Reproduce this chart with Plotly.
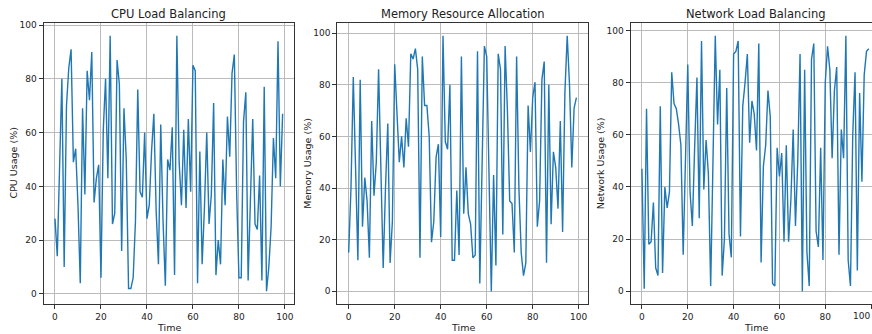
import plotly.graph_objects as go

time = list(range(100))

cpu_usage = [28, 14, 47, 80, 10, 70, 84, 91, 49, 54,
             33, 4, 69, 37, 83, 72, 90, 34, 43, 48,
             6, 61, 80, 43, 96, 26, 30, 87, 78, 16,
             69, 50, 2, 2, 6, 27, 76, 38, 36, 60,
             28, 33, 53, 67, 31, 11, 63, 27, 3, 50,
             46, 62, 7, 96, 49, 33, 61, 32, 65, 38,
             85, 83, 4, 53, 11, 32, 60, 26, 37, 71,
             7, 20, 11, 50, 33, 66, 51, 82, 89, 38,
             6, 6, 64, 75, 5, 40, 65, 26, 24, 44,
             5, 77, 1, 10, 25, 58, 43, 94, 40, 67]

memory_usage = [15, 40, 83, 50, 12, 82, 25, 44, 35, 13,
                66, 37, 50, 86, 40, 9, 40, 65, 11, 27,
                88, 70, 50, 60, 48, 67, 56, 92, 90, 94,
                86, 13, 91, 72, 72, 60, 19, 27, 52, 57,
                21, 99, 58, 55, 80, 12, 12, 39, 14, 91,
                30, 48, 30, 26, 13, 14, 93, 3, 50, 95,
                91, 40, 0, 45, 10, 92, 86, 22, 95, 70,
                35, 34, 15, 91, 40, 15, 6, 11, 72, 54,
                75, 81, 25, 35, 82, 89, 11, 80, 26, 54,
                48, 32, 66, 23, 77, 99, 80, 48, 71, 75]

network_usage = [47, 1, 70, 18, 19, 34, 9, 6, 71, 7,
                 40, 32, 38, 84, 72, 70, 64, 56, 14, 50,
                 87, 38, 25, 55, 82, 28, 96, 39, 58, 45,
                 2, 50, 98, 64, 85, 6, 20, 78, 22, 13,
                 91, 92, 96, 21, 71, 80, 91, 57, 73, 68,
                 54, 95, 11, 48, 56, 77, 67, 3, 2, 55,
                 44, 53, 19, 56, 19, 35, 62, 25, 50, 91,
                 0, 85, 15, 2, 89, 95, 23, 17, 55, 12,
                 80, 94, 85, 51, 77, 86, 14, 62, 51, 98,
                 12, 2, 60, 84, 8, 76, 42, 83, 92, 93]

titles = ["CPU Load Balancing", "Memory Resource Allocation", "Network Load Balancing"]
ylabels = ["CPU Usage (%)", "Memory Usage (%)", "Network Usage (%)"]
series = [cpu_usage, memory_usage, network_usage]

W, H = 872, 334
MT, MB = 23, 30
plot_h = H - MT - MB

def px_x(p):
    return p / W

def px_y(p):
    return (H - MB - p) / plot_h

domains = [[px_x(43.6), px_x(294.0)], [px_x(337.3), px_x(587.8)], [px_x(630.6), 1.0]]
xranges = [[-4.95, 103.95], [-4.95, 103.95], [-4.95, 100.4]]
ylabel_x = [13, 307.3, 600.7]

fig = go.Figure()
font = "DejaVu Sans, Arial, sans-serif"
axis_color = "#333333"
grid_color = "#bbbbbb"

for i, (vals, title, ylab) in enumerate(zip(series, titles, ylabels)):
    n = i + 1
    xa = "x" if n == 1 else f"x{n}"
    ya = "y" if n == 1 else f"y{n}"
    fig.add_trace(go.Scatter(x=time, y=vals, mode="lines",
                             line=dict(color="#1f77b4", width=1.4),
                             xaxis=xa, yaxis=ya, showlegend=False))
    lo, hi = min(vals), max(vals)
    pad = (hi - lo) * 0.05
    xkey = "xaxis" if n == 1 else f"xaxis{n}"
    ykey = "yaxis" if n == 1 else f"yaxis{n}"
    fig.update_layout({
        xkey: dict(domain=domains[i], range=xranges[i], anchor=ya,
                   tickmode="linear", tick0=0, dtick=20,
                   showgrid=True, gridcolor=grid_color, gridwidth=0.8,
                   zeroline=False, showline=True, mirror=True,
                   linecolor=axis_color, linewidth=1,
                   ticks="outside", ticklen=4, tickcolor=axis_color,
                   tickfont=dict(family=font, size=9, color="#222222")),
        ykey: dict(domain=[0, 1], range=[lo - pad, hi + pad], anchor=xa,
                   tickmode="linear", tick0=0, dtick=20,
                   showgrid=True, gridcolor=grid_color, gridwidth=0.8,
                   zeroline=False, showline=True, mirror=(n != 3),
                   linecolor=axis_color, linewidth=1,
                   ticks="outside", ticklen=4, tickcolor=axis_color,
                   tickfont=dict(family=font, size=9, color="#222222")),
    })
    right_px = domains[i][1] * W if n != 3 else 881
    xcenter = (domains[i][0] * W + right_px) / 2
    fig.add_annotation(text=title, x=px_x(xcenter), y=px_y(14), xref="paper", yref="paper",
                       showarrow=False, xanchor="center", yanchor="middle",
                       font=dict(family=font, size=11.5, color="#222222"))
    fig.add_annotation(text=ylab, x=px_x(ylabel_x[i]), y=px_y(163.5), xref="paper", yref="paper",
                       showarrow=False, xanchor="center", yanchor="middle", textangle=-90,
                       font=dict(family=font, size=9.5, color="#222222"))
    fig.add_annotation(text="Time", x=px_x(xcenter), y=px_y(327), xref="paper", yref="paper",
                       showarrow=False, xanchor="center", yanchor="middle",
                       font=dict(family=font, size=9.5, color="#222222"))

# last x tick label of the right panel sits at the page edge
fig.add_annotation(text="100", x=1.0, y=px_y(316), xref="paper", yref="paper",
                   showarrow=False, xanchor="right", yanchor="middle",
                   font=dict(family=font, size=9, color="#222222"))

fig.update_layout(width=W, height=H,
                  margin=dict(l=0, r=0, t=MT, b=MB),
                  paper_bgcolor="white", plot_bgcolor="white")

fig.write_html("out.html")
